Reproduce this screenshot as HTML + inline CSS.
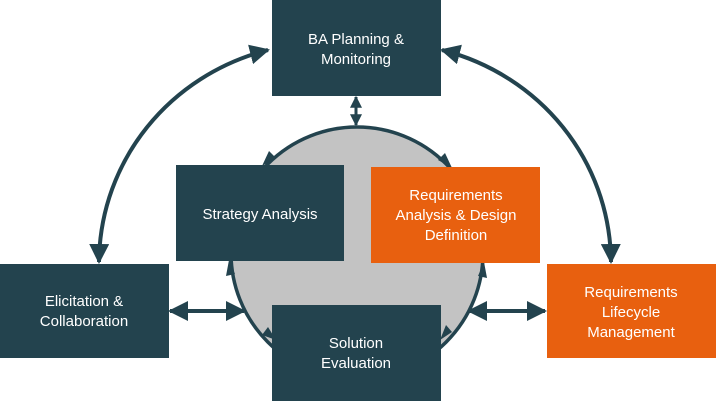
<!DOCTYPE html>
<html><head><meta charset="utf-8"><style>
html,body{margin:0;padding:0;background:#fff;}
svg{display:block;}
text{font-family:"Liberation Sans",sans-serif;font-size:15px;fill:#fff;text-anchor:middle;}
</style></head><body>
<svg width="716" height="401" viewBox="0 0 716 401" xmlns="http://www.w3.org/2000/svg">
<defs>
<marker id="a" viewBox="0 0 10 10" refX="9" refY="5" markerWidth="5" markerHeight="5" orient="auto-start-reverse" markerUnits="strokeWidth">
<path d="M0,0 L10,5 L0,10 z" fill="#23434e"/></marker>
<marker id="b" viewBox="0 0 10 10" refX="9" refY="5" markerWidth="4" markerHeight="4" orient="auto-start-reverse" markerUnits="strokeWidth">
<path d="M0,0 L10,5 L0,10 z" fill="#23434e"/></marker>
</defs>
<g fill="none" stroke="#23434e" stroke-width="3.5">
<circle cx="357" cy="253" r="126" fill="#c3c3c3" stroke-width="3.5"/>
<path d="M268,50 C170,75 100,160 99,262" stroke-width="4" marker-start="url(#a)" marker-end="url(#a)"/>
<path d="M442,50 C540,75 610,160 611,262" stroke-width="4" marker-start="url(#a)" marker-end="url(#a)"/>
<path d="M356,97 L356,125" stroke-width="3" marker-start="url(#b)" marker-end="url(#b)"/>
<path d="M170,311 L244,311" stroke-width="4" marker-start="url(#a)" marker-end="url(#a)"/>
<path d="M469,311 L545,311" stroke-width="4" marker-start="url(#a)" marker-end="url(#a)"/>
</g>
<g fill="#23434e">
<path d="M262,166 L276,158 L269,151 z"/>
<path d="M452,168 L438,160 L445,153 z"/>
<path d="M229,260 L226,276 L235,274 z"/>
<path d="M276,340 L262,335 L268,327 z"/>
<path d="M484,262 L487,278 L478,276 z"/>
<path d="M440,340 L452,332 L446,325 z"/>
</g>
<rect x="272" y="0" width="169" height="96" fill="#23434e"/>
<rect x="176" y="165" width="168" height="96" fill="#23434e"/>
<rect x="371" y="167" width="169" height="96" fill="#e8600f"/>
<rect x="0" y="264" width="169" height="94" fill="#23434e"/>
<rect x="547" y="264" width="169" height="94" fill="#e8600f"/>
<rect x="272" y="305" width="169" height="96" fill="#23434e"/>
<text x="356" y="44">BA Planning &amp;</text>
<text x="356" y="64">Monitoring</text>
<text x="260" y="219">Strategy Analysis</text>
<text x="456" y="200">Requirements</text>
<text x="456" y="220">Analysis &amp; Design</text>
<text x="456" y="240">Definition</text>
<text x="84" y="306">Elicitation &amp;</text>
<text x="84" y="326">Collaboration</text>
<text x="631" y="297">Requirements</text>
<text x="631" y="317">Lifecycle</text>
<text x="631" y="337">Management</text>
<text x="356" y="348">Solution</text>
<text x="356" y="368">Evaluation</text>
</svg>
</body></html>
